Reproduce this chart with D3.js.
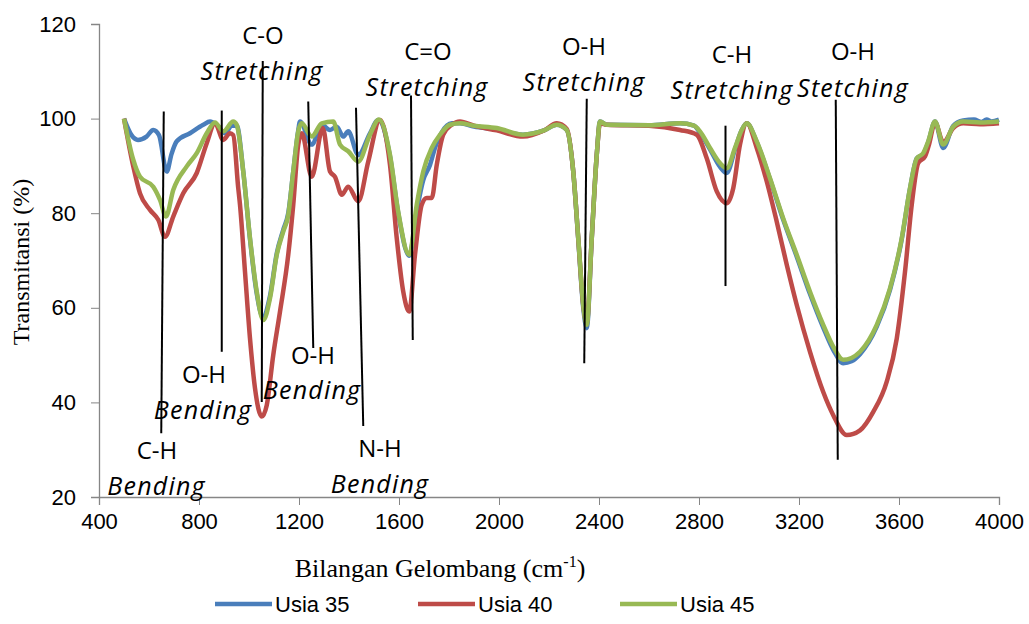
<!DOCTYPE html>
<meta charset="utf-8">
<style>
    body { margin: 0; background: #fff; }
    .axis path, .axis line { stroke: #868686; }
    .axis text { font: 22px "Liberation Sans", Arial, sans-serif; fill: #000; }
    .ann { font-family: "Open Sans", sans-serif; font-size: 24px; fill: #000; }
    .ann.it { font-style: italic; font-size: 25px; letter-spacing: 1.2px; }
    .legend text { font: 22px "Liberation Sans", Arial, sans-serif; }
</style>
<body>
<script src="https://cdn.jsdelivr.net/npm/d3@7"></script>
<script>
    // wavenumber (cm-1), transmittance (%)
    var usia35 = [[500,100],[530,96.5],[556,95.5],[590,96.2],[617,97.6],[640,96.5],[671,88.8],[690,92.5],[711,95.2],[764,96.9],[817,98.7],[844,99.4],[871,98.7],[904,96.9],[931,98.5],[951,98.5],[977,88.8],[1004,74.5],[1031,63],[1055,58.1],[1084,62.5],[1111,71.5],[1137,76.5],[1157,80],[1177,88.8],[1197,97.5],[1204,99.4],[1251,94.5],[1291,98.7],[1324,97.6],[1351,98.3],[1377,96.2],[1397,97.3],[1437,92.3],[1484,96.9],[1517,99.7],[1564,92],[1597,80],[1641,71],[1671,80.5],[1697,87],[1724,90.2],[1745,94],[1770,97],[1811,99],[1844,99],[1900,98.3],[1991,97.7],[2096,96.6],[2180,97.5],[2231,98.7],[2271,97.6],[2297,88.8],[2317,74.5],[2337,60],[2351,55.7],[2371,74.7],[2391,92.3],[2404,99.4],[2431,98.7],[2600,98.6],[2724,99],[2780,98.5],[2804,97],[2844,93.5],[2884,89.8],[2911,88.5],[2944,93.5],[2971,97.6],[2991,99],[3031,95],[3084,87.2],[3137,78.6],[3191,70.8],[3244,62.9],[3297,55.8],[3340,50.8],[3377,48.3],[3410,48.7],[3444,50.2],[3511,56],[3564,63.8],[3611,74.5],[3644,85.2],[3671,91.6],[3697,92.5],[3717,95],[3744,99.4],[3777,93.8],[3817,98.5],[3857,99.6],[3900,99.8],[3930,99.3],[3950,99.8],[3970,99.4],[4000,99.8]];

    var usia40 = [[500,100],[537,89.9],[564,84.2],[604,80.7],[637,78.6],[664,75.0],[697,79.3],[737,84.2],[791,88.5],[831,94.8],[864,99.0],[897,95.5],[924,96.9],[937,96.5],[957,85.3],[964,81.8],[984,67.6],[1004,53.5],[1024,43],[1051,37],[1071,39.4],[1097,50],[1124,59.2],[1157,71.2],[1177,81.8],[1197,94.5],[1211,96.9],[1251,87.7],[1295,98],[1324,88.8],[1344,87.7],[1371,83.9],[1397,85.6],[1437,82.5],[1477,90.9],[1524,99.7],[1564,90.2],[1591,74.7],[1617,63.4],[1641,59.2],[1664,71.2],[1691,81.8],[1711,83.2],[1731,83.2],[1751,90.2],[1777,96.6],[1811,98.7],[1844,99.4],[1900,98.5],[1991,97.5],[2096,96.2],[2180,97.5],[2231,99],[2271,97.8],[2297,88.8],[2317,74.7],[2337,60.6],[2351,56.8],[2371,74.7],[2391,92.3],[2404,99.0],[2431,98.7],[2600,98.5],[2724,97.6],[2791,96.6],[2831,91.6],[2871,84.6],[2911,82.1],[2937,85.3],[2964,94.5],[2991,99],[3031,93.8],[3071,86.7],[3111,78.2],[3151,69.1],[3191,60.6],[3244,50.7],[3297,42.2],[3337,37.3],[3391,33.1],[3444,34.1],[3497,38],[3551,44.4],[3591,53.5],[3624,67.6],[3651,81.8],[3677,90.6],[3704,92],[3720,94.5],[3744,99.2],[3777,95],[3817,98],[3857,99],[3924,98.8],[4000,99]];

    var usia45 = [[500,100],[537,91.3],[564,87.7],[617,85.6],[644,82.8],[668,79.3],[697,84.9],[751,89.9],[791,92.7],[831,96.9],[864,99.2],[897,97.3],[937,99.4],[951,98.7],[977,88.8],[1004,74.7],[1031,63.4],[1057,57.4],[1084,62],[1111,71.2],[1137,76.1],[1157,79.6],[1177,88.8],[1197,97.3],[1211,99.0],[1251,96.2],[1291,99],[1337,99.4],[1364,94.5],[1397,93.1],[1437,90.9],[1484,96.6],[1520,99.8],[1564,92.3],[1597,80.3],[1641,71.2],[1671,81.8],[1697,88.8],[1731,93.8],[1764,96.6],[1804,98.7],[1844,99],[1900,98.5],[1991,98],[2096,96.6],[2180,97.5],[2231,98.7],[2271,97.6],[2297,88.8],[2317,74.7],[2337,60.6],[2351,56.4],[2371,74.7],[2391,92.3],[2404,99.4],[2431,98.7],[2600,98.6],[2724,99],[2780,98.5],[2804,97.3],[2844,93.8],[2884,90.6],[2911,89.5],[2944,93.8],[2971,97.6],[2991,99],[3031,95.2],[3084,87.4],[3137,78.9],[3191,71.2],[3244,63.4],[3297,56.4],[3340,51.5],[3377,49.0],[3410,49.4],[3444,50.7],[3511,56.4],[3564,64.1],[3611,74.7],[3644,85.3],[3671,91.6],[3697,92.7],[3717,95.2],[3744,99.4],[3777,94.5],[3817,98.3],[3857,99.4],[3924,99.2],[4000,99.4]];

    var seriesNames = ["Usia 35", "Usia 40", "Usia 45"];
    var seriesColors = ["#4a7ebb", "#be4b48", "#98b954"];
    var xTicks = [400, 800, 1200, 1600, 2000, 2400, 2800, 3200, 3600, 4000];
    var yTicks = [20, 40, 60, 80, 100, 120];

    // marker lines: [wn top, T top, wn bottom, T bottom]
    var markLines = [[659,101.5,649,33.5],[891,101.7,891,50.7],[1055,112.2,1051,40.1],[1237,103.6,1257,51.5],[1428,102.3,1457,35],[1648,104.9,1655,53.2],[2351,104.2,2341,48.3],[2906,98.5,2906,64.6],[3347,104,3355,27.9]];
    // labels: [wn, T, text, italic]
    var markLabels = [
        [1056,115.8,"C-O",0],[1052,108.2,"Stretching",1],
        [820,44.1,"O-H",0],[816,36.5,"Bending",1],
        [632,28.0,"C-H",0],[630,20.4,"Bending",1],
        [1256,48.1,"O-H",0],[1252,40.7,"Bending",1],
        [1524,28.4,"N-H",0],[1524,20.8,"Bending",1],
        [1716,112.4,"C=O",0],[1712,104.8,"Stretching",1],
        [2340,113.5,"O-H",0],[2340,105.9,"Stretching",1],
        [2932,111.8,"C-H",0],[2932,104.2,"Stretching",1],
        [3416,112.4,"O-H",0],[3416,104.6,"Stetching",1]
    ];

    var width = 1029, height = 624;
    var svg = d3.select("body").append("svg")
        .attr("width", width)
        .attr("height", height);

    var x = d3.scaleLinear().domain([400, 4000]).range([99, 999]);
    var y = d3.scaleLinear().domain([20, 120]).range([497, 24]);

    svg.append("g")
        .attr("class", "axis")
        .attr("transform", "translate(0,497)")
        .call(d3.axisBottom(x).tickValues(xTicks).tickSize(8).tickPadding(4).tickFormat(d3.format("d")))
        .call(function (g) { g.selectAll("text").attr("dy", "0.9em"); });

    svg.append("g")
        .attr("class", "axis")
        .attr("transform", "translate(99,0)")
        .call(d3.axisLeft(y).tickValues(yTicks).tickSize(8).tickPadding(15));

    svg.selectAll(".axis .domain").attr("stroke-width", 1.3);

    var line = d3.line()
        .x(function (d) { return x(d[0]); })
        .y(function (d) { return y(d[1]); })
        .curve(d3.curveMonotoneX);

    [usia35, usia40, usia45].forEach(function (s, i) {
        svg.append("path")
            .datum(s)
            .attr("fill", "none")
            .attr("stroke", seriesColors[i])
            .attr("stroke-width", 4.5)
            .attr("stroke-linejoin", "round")
            .attr("d", line);
    });

    svg.selectAll(".mark")
        .data(markLines)
        .enter().append("line")
        .attr("class", "mark")
        .attr("x1", function (d) { return x(d[0]); })
        .attr("y1", function (d) { return y(d[1]); })
        .attr("x2", function (d) { return x(d[2]); })
        .attr("y2", function (d) { return y(d[3]); })
        .attr("stroke", "#000")
        .attr("stroke-width", 2);

    svg.selectAll(".ann")
        .data(markLabels)
        .enter().append("text")
        .attr("class", function (d) { return d[3] ? "ann it" : "ann"; })
        .attr("x", function (d) { return x(d[0]); })
        .attr("y", function (d) { return y(d[1]); })
        .attr("text-anchor", "middle")
        .text(function (d) { return d[2]; });

    // axis titles
    svg.append("text")
        .attr("transform", "translate(29,262) rotate(-90)")
        .attr("text-anchor", "middle")
        .style("font", "24px 'Liberation Serif', 'Times New Roman', serif")
        .text("Transmitansi (%)");

    var xt = svg.append("text")
        .attr("x", 440)
        .attr("y", 577)
        .attr("text-anchor", "middle")
        .style("font", "26px 'Liberation Serif', 'Times New Roman', serif");
    xt.append("tspan").text("Bilangan Gelombang (cm");
    xt.append("tspan").attr("dy", -10).style("font-size", "16px").text("-1");
    xt.append("tspan").attr("dy", 10).text(")");

    var legX = [215, 418, 620];
    var leg = svg.selectAll(".legend")
        .data(seriesNames)
        .enter().append("g")
        .attr("class", "legend")
        .attr("transform", function (d, i) { return "translate(" + legX[i] + ",604)"; });
    leg.append("line")
        .attr("x1", 0).attr("x2", 57)
        .attr("stroke", function (d, i) { return seriesColors[i]; })
        .attr("stroke-width", 4.5);
    leg.append("text")
        .attr("x", 60)
        .attr("dy", "0.36em")
        .text(function (d) { return d; });
</script>
</body>
